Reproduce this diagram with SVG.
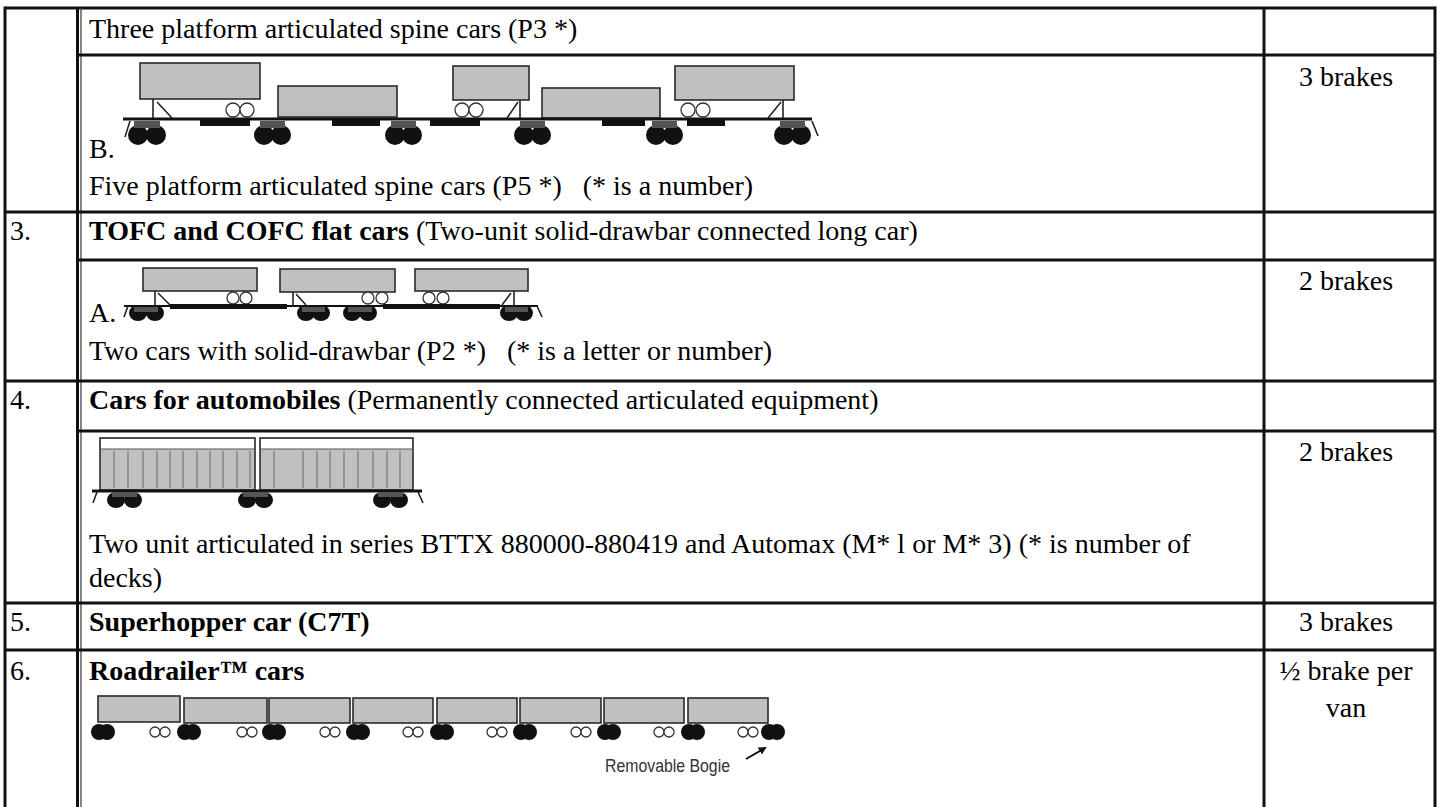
<svg xmlns="http://www.w3.org/2000/svg" width="1437" height="807" viewBox="0 0 1437 807">
<style>
.t{font-family:"Liberation Serif","Times New Roman",serif;font-size:28px;fill:#000}
.b{font-weight:bold}
.c{text-anchor:middle}
.g line{stroke:#111;stroke-width:3}
.g line.thin{stroke:#444;stroke-width:1.3}
.box{fill:#c0c0c0;stroke:#2a2a2a;stroke-width:1.6}
.wh{fill:#111}
.ow{fill:#fff;stroke:#333;stroke-width:1.3}
.fr{fill:#555}
.ln{stroke:#222;stroke-width:1.6;fill:none}
.deck{stroke:#111;stroke-width:3}
.rib{stroke:#777;stroke-width:1.2}
.lab{font-family:"Liberation Sans",Arial,sans-serif;font-size:18px;fill:#333}
</style>
<defs>
<marker id="ah" markerWidth="8" markerHeight="8" refX="6" refY="4" orient="auto" markerUnits="userSpaceOnUse">
<path d="M0,0 L8,4 L0,8 z" fill="#111"/>
</marker>
</defs>
<rect width="1437" height="807" fill="#fff"/>

<g id="grid" class="g">
<line x1="5" y1="8" x2="1435" y2="8"/>
<line x1="5" y1="6.5" x2="5" y2="807"/>
<line x1="77.5" y1="8" x2="77.5" y2="807"/>
<line class="thin" x1="81" y1="8" x2="81" y2="807"/>
<line x1="1264" y1="8" x2="1264" y2="807"/>
<line x1="1435" y1="6.5" x2="1435" y2="807"/>
<line x1="78" y1="55" x2="1435" y2="55"/>
<line x1="5" y1="212" x2="1435" y2="212"/>
<line x1="78" y1="260" x2="1435" y2="260"/>
<line x1="5" y1="381" x2="1435" y2="381"/>
<line x1="78" y1="431" x2="1435" y2="431"/>
<line x1="5" y1="603" x2="1435" y2="603"/>
<line x1="5" y1="650" x2="1435" y2="650"/>
</g>

<g id="row2">
<text class="t" x="89" y="38">Three platform articulated spine cars (P3 *)</text>
<text class="t c" x="1346" y="86">3 brakes</text>
<text class="t" x="89" y="158">B.</text>
<text class="t" x="89" y="195">Five platform articulated spine cars (P5 *)&#160;&#160; (* is a number)</text>
<g id="spine-train">
<rect class="box" x="140" y="63" width="120" height="36"/>
<rect class="box" x="278" y="86" width="119" height="31"/>
<rect class="box" x="453" y="66" width="76" height="34"/>
<rect class="box" x="542" y="88" width="118" height="30"/>
<rect class="box" x="675" y="66" width="119" height="34"/>
<line class="ln" x1="153" y1="99" x2="153" y2="118"/>
<line class="ln" x1="157" y1="102" x2="172" y2="118"/>
<circle class="ow" cx="233" cy="110" r="7"/>
<circle class="ow" cx="247" cy="110" r="7"/>
<circle class="ow" cx="462" cy="110" r="7"/>
<circle class="ow" cx="476" cy="110" r="7"/>
<line class="ln" x1="520" y1="100" x2="520" y2="118"/>
<line class="ln" x1="518" y1="102" x2="507" y2="118"/>
<circle class="ow" cx="688" cy="110" r="7"/>
<circle class="ow" cx="703" cy="110" r="7"/>
<line class="ln" x1="783" y1="100" x2="783" y2="118"/>
<line class="ln" x1="781" y1="102" x2="768" y2="118"/>
<line class="deck" x1="123" y1="119" x2="812" y2="119"/>
<rect x="200" y="119" width="50" height="7" fill="#111"/>
<rect x="332" y="119" width="48" height="7" fill="#111"/>
<rect x="430" y="119" width="50" height="7" fill="#111"/>
<rect x="602" y="119" width="43" height="7" fill="#111"/>
<rect x="687" y="119" width="38" height="7" fill="#111"/>
<g id="bogies2">
<circle class="wh" cx="138" cy="135" r="10"/><circle class="wh" cx="156" cy="135" r="10"/><rect class="fr" x="134" y="121" width="26" height="7"/>
<circle class="wh" cx="264" cy="135" r="10"/><circle class="wh" cx="281" cy="135" r="10"/><rect class="fr" x="260" y="121" width="25" height="7"/>
<circle class="wh" cx="395" cy="135" r="10"/><circle class="wh" cx="412" cy="135" r="10"/><rect class="fr" x="391" y="121" width="25" height="7"/>
<circle class="wh" cx="524" cy="135" r="10"/><circle class="wh" cx="541" cy="135" r="10"/><rect class="fr" x="520" y="121" width="25" height="7"/>
<circle class="wh" cx="656" cy="135" r="10"/><circle class="wh" cx="673" cy="135" r="10"/><rect class="fr" x="652" y="121" width="25" height="7"/>
<circle class="wh" cx="784" cy="135" r="10"/><circle class="wh" cx="801" cy="135" r="10"/><rect class="fr" x="780" y="121" width="25" height="7"/>
</g>
<line class="ln" x1="130" y1="121" x2="125" y2="137"/>
<line class="ln" x1="812" y1="121" x2="818" y2="136"/>
</g>
</g>

<g id="row3">
<text class="t" x="10" y="240">3.</text>
<text class="t" x="89" y="240"><tspan class="b">TOFC and COFC flat cars</tspan> (Two-unit solid-drawbar connected long car)</text>
<text class="t c" x="1346" y="290">2 brakes</text>
<text class="t" x="89" y="322">A.</text>
<text class="t" x="89" y="360">Two cars with solid-drawbar (P2 *)&#160;&#160; (* is a letter or number)</text>
<g id="tofc-train">
<rect class="box" x="143" y="268" width="114" height="23"/>
<rect class="box" x="280" y="269" width="115" height="23"/>
<rect class="box" x="415" y="269" width="113" height="22"/>
<line class="ln" x1="155" y1="291" x2="155" y2="305"/>
<line class="ln" x1="158" y1="293" x2="170" y2="305"/>
<circle class="ow" cx="233" cy="298" r="6"/><circle class="ow" cx="246" cy="298" r="6"/>
<line class="ln" x1="293" y1="292" x2="293" y2="305"/>
<line class="ln" x1="296" y1="294" x2="306" y2="305"/>
<circle class="ow" cx="368" cy="298" r="6"/><circle class="ow" cx="382" cy="298" r="6"/>
<circle class="ow" cx="429" cy="298" r="6"/><circle class="ow" cx="443" cy="298" r="6"/>
<line class="ln" x1="514" y1="291" x2="514" y2="305"/>
<line class="ln" x1="511" y1="293" x2="502" y2="305"/>
<line x1="124" y1="306" x2="538" y2="306" stroke="#111" stroke-width="2.2"/>
<rect x="170" y="304" width="117" height="5" fill="#111"/>
<rect x="383" y="304" width="117" height="5" fill="#111"/>
<ellipse class="wh" cx="138" cy="313" rx="9" ry="8"/><ellipse class="wh" cx="155" cy="313" rx="9" ry="8"/><rect class="fr" x="134" y="307" width="24" height="5"/>
<ellipse class="wh" cx="306" cy="313" rx="9" ry="8"/><ellipse class="wh" cx="321" cy="313" rx="9" ry="8"/><rect class="fr" x="302" y="307" width="23" height="5"/>
<ellipse class="wh" cx="352" cy="313" rx="9" ry="8"/><ellipse class="wh" cx="368" cy="313" rx="9" ry="8"/><rect class="fr" x="348" y="307" width="24" height="5"/>
<ellipse class="wh" cx="509" cy="313" rx="9" ry="8"/><ellipse class="wh" cx="524" cy="313" rx="9" ry="8"/><rect class="fr" x="505" y="307" width="23" height="5"/>
<line class="ln" x1="128" y1="306" x2="124" y2="317"/>
<line class="ln" x1="537" y1="306" x2="542" y2="317"/>
</g>
</g>

<g id="row4">
<text class="t" x="10" y="409">4.</text>
<text class="t" x="89" y="409"><tspan class="b">Cars for automobiles</tspan> (Permanently connected articulated equipment)</text>
<text class="t c" x="1346" y="461">2 brakes</text>
<text class="t" x="89" y="553">Two unit articulated in series BTTX 880000-880419 and Automax (M* l or M* 3) (* is number of</text>
<text class="t" x="89" y="587">decks)</text>
<g id="auto-train">
<rect class="box" x="100" y="438" width="155" height="52"/>
<rect x="101" y="439" width="153" height="10" fill="#fff"/>
<line x1="100" y1="449" x2="255" y2="449" stroke="#555" stroke-width="1"/>
<rect class="box" x="260" y="438" width="153" height="52"/>
<rect x="261" y="439" width="151" height="10" fill="#fff"/>
<line x1="260" y1="449" x2="413" y2="449" stroke="#555" stroke-width="1"/>
<g class="rib">
<line x1="114" y1="451" x2="114" y2="488"/><line x1="128" y1="451" x2="128" y2="488"/><line x1="143" y1="451" x2="143" y2="488"/><line x1="157" y1="451" x2="157" y2="488"/><line x1="170" y1="451" x2="170" y2="488"/><line x1="183" y1="451" x2="183" y2="488"/><line x1="197" y1="451" x2="197" y2="488"/><line x1="210" y1="451" x2="210" y2="488"/><line x1="223" y1="451" x2="223" y2="488"/><line x1="237" y1="451" x2="237" y2="488"/><line x1="250" y1="451" x2="250" y2="488"/>
<line x1="274" y1="451" x2="274" y2="488"/><line x1="303" y1="451" x2="303" y2="488"/><line x1="317" y1="451" x2="317" y2="488"/><line x1="330" y1="451" x2="330" y2="488"/><line x1="344" y1="451" x2="344" y2="488"/><line x1="358" y1="451" x2="358" y2="488"/><line x1="373" y1="451" x2="373" y2="488"/><line x1="387" y1="451" x2="387" y2="488"/><line x1="400" y1="451" x2="400" y2="488"/>
</g>
<line class="deck" x1="92" y1="491" x2="422" y2="491"/>
<ellipse class="wh" cx="116" cy="500" rx="9" ry="8"/><ellipse class="wh" cx="133" cy="500" rx="9" ry="8"/><rect class="fr" x="112" y="492" width="25" height="5"/>
<ellipse class="wh" cx="247" cy="500" rx="9" ry="8"/><ellipse class="wh" cx="264" cy="500" rx="9" ry="8"/><rect class="fr" x="243" y="492" width="25" height="5"/>
<ellipse class="wh" cx="382" cy="500" rx="9" ry="8"/><ellipse class="wh" cx="399" cy="500" rx="9" ry="8"/><rect class="fr" x="378" y="492" width="25" height="5"/>
<line class="ln" x1="97" y1="492" x2="93" y2="503"/>
<line class="ln" x1="418" y1="492" x2="423" y2="503"/>
</g>
</g>

<g id="row5">
<text class="t" x="10" y="631">5.</text>
<text class="t b" x="89" y="631">Superhopper car (C7T)</text>
<text class="t c" x="1346" y="631">3 brakes</text>
</g>

<g id="row6">
<text class="t" x="10" y="680">6.</text>
<text class="t b" x="89" y="680">Roadrailer™ cars</text>
<text class="t c" x="1346" y="680">½ brake per</text>
<text class="t c" x="1346" y="717">van</text>
<g id="roadrailer">
<rect class="box" x="98" y="696" width="82" height="26"/>
<rect class="box" x="184" y="698" width="83" height="25"/>
<rect class="box" x="269" y="698" width="81" height="25"/>
<rect class="box" x="353" y="698" width="80" height="25"/>
<rect class="box" x="437" y="698" width="80" height="25"/>
<rect class="box" x="520" y="698" width="81" height="25"/>
<rect class="box" x="604" y="698" width="80" height="25"/>
<rect class="box" x="688" y="698" width="80" height="25"/>
<g id="bogies6">
<circle class="wh" cx="99" cy="732" r="8"/><circle class="wh" cx="107" cy="732" r="8"/>
<circle class="wh" cx="185" cy="732" r="8"/><circle class="wh" cx="193" cy="732" r="8"/>
<circle class="wh" cx="270" cy="732" r="8"/><circle class="wh" cx="278" cy="732" r="8"/>
<circle class="wh" cx="354" cy="732" r="8"/><circle class="wh" cx="362" cy="732" r="8"/>
<circle class="wh" cx="438" cy="732" r="8"/><circle class="wh" cx="446" cy="732" r="8"/>
<circle class="wh" cx="521" cy="732" r="8"/><circle class="wh" cx="529" cy="732" r="8"/>
<circle class="wh" cx="605" cy="732" r="8"/><circle class="wh" cx="613" cy="732" r="8"/>
<circle class="wh" cx="689" cy="732" r="8"/><circle class="wh" cx="697" cy="732" r="8"/>
<circle class="wh" cx="769" cy="732" r="8"/><circle class="wh" cx="777" cy="732" r="8"/>
<circle class="ow" cx="155" cy="732" r="5"/><circle class="ow" cx="165" cy="732" r="5"/>
<circle class="ow" cx="242" cy="732" r="5"/><circle class="ow" cx="252" cy="732" r="5"/>
<circle class="ow" cx="325" cy="732" r="5"/><circle class="ow" cx="335" cy="732" r="5"/>
<circle class="ow" cx="408" cy="732" r="5"/><circle class="ow" cx="418" cy="732" r="5"/>
<circle class="ow" cx="492" cy="732" r="5"/><circle class="ow" cx="502" cy="732" r="5"/>
<circle class="ow" cx="576" cy="732" r="5"/><circle class="ow" cx="586" cy="732" r="5"/>
<circle class="ow" cx="659" cy="732" r="5"/><circle class="ow" cx="669" cy="732" r="5"/>
<circle class="ow" cx="743" cy="732" r="5"/><circle class="ow" cx="753" cy="732" r="5"/>
</g>
<text class="lab" x="605" y="772" textLength="125" lengthAdjust="spacingAndGlyphs">Removable Bogie</text>
<line x1="746" y1="759" x2="765" y2="748" stroke="#111" stroke-width="2" marker-end="url(#ah)"/>
</g>
</g>
</svg>
